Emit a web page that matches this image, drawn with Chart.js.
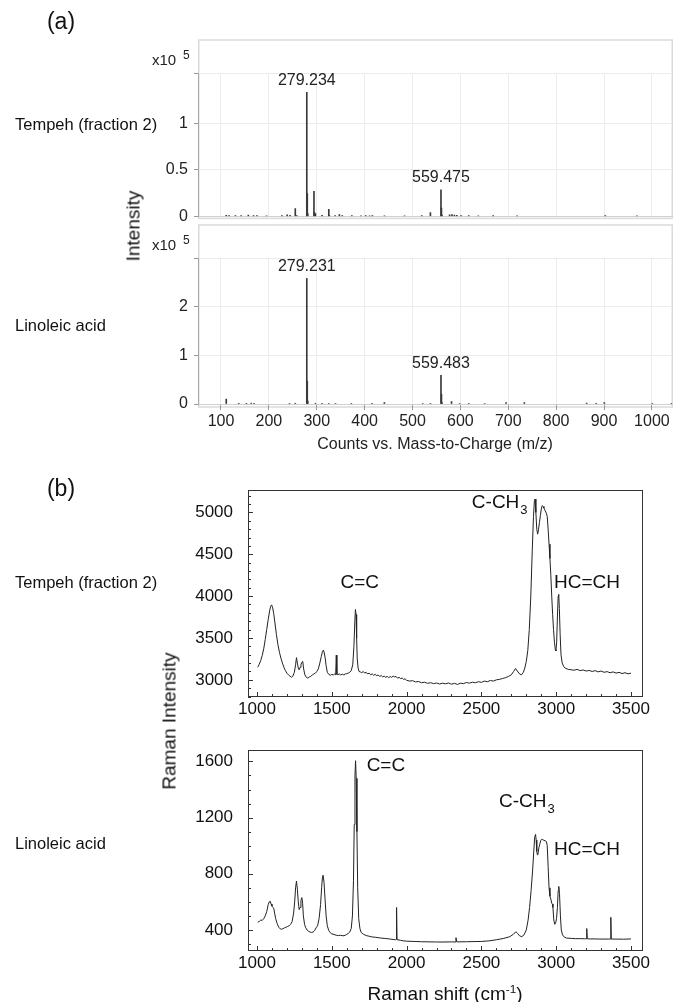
<!DOCTYPE html>
<html><head><meta charset="utf-8">
<script src="https://cdn.jsdelivr.net/npm/chart.js@4.4.1/dist/chart.umd.min.js"></script>
<style>
html,body{margin:0;padding:0;background:#fff;}
#wrap{position:relative;width:673px;height:1002px;overflow:hidden;font-family:"Liberation Sans",Arial,sans-serif;color:#111;}
canvas{position:absolute;left:0;}
.t{position:absolute;white-space:nowrap;line-height:1;transform:translateY(-50%);}
.rot{position:absolute;white-space:nowrap;line-height:1;transform:translate(-50%,-50%) rotate(-90deg);}
.c{position:absolute;white-space:nowrap;line-height:1;transform:translate(-50%,-50%);}
sup{font-size:62%;vertical-align:0.55em;line-height:0;}
</style></head>
<body><div id="wrap">
<canvas id="a1" width="673" height="232" style="top:0;width:673px;height:232px"></canvas>
<canvas id="a2" width="673" height="238" style="top:222px;width:673px;height:238px"></canvas>
<canvas id="b1" width="673" height="260" style="top:465px;width:673px;height:260px"></canvas>
<canvas id="b2" width="673" height="277" style="top:725px;width:673px;height:277px"></canvas>
<div class="c" style="left:61px;top:21px;font-size:23px">(a)</div>
<div class="c" style="left:61px;top:488px;font-size:23px">(b)</div>
<div class="t" style="left:15px;top:124px;font-size:16.5px">Tempeh (fraction 2)</div>
<div class="t" style="left:15px;top:325px;font-size:16.5px">Linoleic acid</div>
<div class="t" style="left:15px;top:582px;font-size:16.5px">Tempeh (fraction 2)</div>
<div class="t" style="left:15px;top:843px;font-size:16.5px">Linoleic acid</div>
<div class="rot" style="left:133px;top:226px;font-size:19px">Intensity</div>
<div class="rot" style="left:169px;top:721px;font-size:19px">Raman Intensity</div>
<div class="c" style="left:445px;top:993px;font-size:19px">Raman shift (cm<sup>-1</sup>)</div>
</div>
<script>
// ---------- DATA ----------
// (a) mass spectra, intensity in units of 1e5 counts
const msMzTempeh = [111.0,117.0,130.1,142.1,157.1,168.1,175.1,195.1,227.2,238.2,244.2,255.2,258.2,279.234,280.237,281.24,294.2,295.2,297.2,311.2,325.2,326.2,338.3,347.3,353.3,373.3,392.3,402.3,410.3,416.3,441.3,483.4,519.4,537.4,559.475,560.48,561.48,577.5,582.5,587.5,592.5,601.5,617.5,637.5,668.5,718.6,902.7,968.7];
const msIntTempeh = [0.012,0.010,0.008,0.009,0.014,0.010,0.008,0.007,0.010,0.018,0.012,0.085,0.010,1.333,0.245,0.030,0.270,0.040,0.030,0.012,0.075,0.012,0.010,0.020,0.008,0.010,0.006,0.008,0.007,0.008,0.006,0.006,0.008,0.040,0.284,0.090,0.015,0.018,0.020,0.015,0.012,0.010,0.008,0.007,0.008,0.006,0.008,0.006];
const msMzLinoleic = [111.0,137.1,153.1,163.1,169.1,243.2,255.2,279.231,280.234,281.24,297.2,311.2,325.2,339.2,372.3,415.3,441.3,521.4,537.4,559.483,560.49,561.5,581.5,598.5,617.5,650.5,695.5,733.6,863.7,883.7,900.7,1000.8,1040.8];
const msIntLinoleic = [0.100,0.015,0.015,0.018,0.012,0.012,0.015,2.580,0.470,0.060,0.015,0.012,0.010,0.010,0.012,0.012,0.030,0.010,0.012,0.590,0.200,0.030,0.050,0.010,0.012,0.010,0.030,0.030,0.020,0.015,0.030,0.012,0.012];
const msPeaksTempeh = [279.234, 559.475];
const msPeaksLinoleic = [279.231, 559.483];
const msXTicks = [100,200,300,400,500,600,700,800,900,1000];
const msYTicksTempeh = [0,0.5,1];
const msYTicksLinoleic = [0,1,2];

// (b) Raman spectra
const ramanShiftTempeh = [1005,1015,1025,1035,1045,1055,1065,1075,1085,1092,1098,1105,1112,1120,1130,1140,1150,1160,1170,1180,1190,1200,1210,1220,1230,1240,1250,1258,1264,1270,1276,1282,1288,1294,1300,1306,1312,1320,1330,1340,1350,1360,1370,1380,1390,1400,1410,1420,1430,1438,1444,1450,1456,1462,1470,1480,1490,1500,1510,1520,1526,1530,1534,1540,1550,1560,1570,1580,1590,1600,1610,1620,1630,1640,1648,1654,1658,1662,1666,1670,1676,1682,1690,1700,1710,1720,1730,1740,1750,1760,1770,1780,1790,1800,1810,1820,1830,1840,1850,1860,1870,1880,1890,1900,1910,1920,1930,1940,1950,1960,1970,1980,1990,2000,2020,2040,2060,2080,2100,2120,2140,2160,2180,2200,2220,2240,2260,2280,2300,2320,2340,2360,2380,2400,2420,2440,2460,2480,2500,2520,2540,2560,2580,2600,2620,2640,2660,2680,2700,2715,2728,2740,2755,2768,2780,2790,2800,2810,2820,2830,2840,2848,2854,2859,2864,2870,2876,2882,2888,2894,2900,2906,2912,2918,2926,2934,2940,2946,2952,2958,2964,2970,2976,2982,2988,2994,2998,3003,3008,3013,3017,3021,3026,3032,3040,3050,3060,3080,3100,3120,3140,3160,3180,3200,3220,3240,3260,3280,3300,3320,3340,3360,3380,3400,3420,3440,3460,3480,3500];
const ramanIntTempeh = [3150,3185,3230,3290,3370,3480,3600,3720,3830,3880,3895,3860,3790,3680,3540,3420,3330,3260,3200,3150,3110,3080,3060,3045,3030,3045,3090,3180,3265,3200,3140,3120,3150,3180,3210,3220,3130,3060,3030,3020,3035,3040,3060,3070,3080,3100,3130,3200,3280,3340,3355,3320,3260,3170,3090,3065,3055,3065,3058,3070,3060,3295,3065,3062,3070,3058,3068,3060,3070,3075,3080,3090,3110,3180,3400,3700,3840,3780,3500,3250,3140,3100,3095,3085,3100,3080,3090,3070,3080,3060,3072,3055,3065,3050,3058,3040,3052,3035,3045,3030,3042,3025,3040,3030,3045,3035,3040,3020,3030,3015,3022,3005,3012,2995,2985,2990,2975,2980,2965,2972,2958,2966,2955,2962,2950,2960,2952,2962,2948,2958,2945,2960,2955,2968,2960,2972,2965,2978,2970,2985,2978,2992,2985,3000,3005,3015,3025,3040,3060,3100,3135,3105,3070,3060,3090,3140,3220,3350,3600,4000,4550,4950,5140,5160,5000,4800,4740,4800,4880,4960,5040,5080,5070,5050,5020,4990,4950,4800,4620,4450,4250,4000,3780,3600,3450,3360,3345,3450,3750,4000,4020,3850,3550,3300,3200,3160,3140,3125,3120,3115,3125,3110,3118,3105,3112,3100,3110,3095,3105,3090,3098,3085,3095,3080,3090,3075,3085,3072,3080];
const ramanShiftLinoleic = [1005,1015,1025,1035,1045,1055,1065,1075,1082,1088,1094,1100,1106,1112,1118,1125,1135,1145,1155,1165,1175,1185,1195,1205,1215,1225,1235,1245,1252,1258,1264,1270,1276,1282,1288,1294,1300,1305,1310,1318,1326,1335,1345,1355,1365,1375,1385,1395,1405,1415,1425,1432,1438,1442,1448,1455,1462,1470,1480,1490,1500,1515,1530,1545,1560,1575,1590,1600,1610,1620,1630,1638,1645,1650,1655,1659,1663,1668,1673,1680,1688,1696,1710,1730,1750,1770,1790,1810,1830,1850,1870,1890,1910,1925,1930,1933,1936,1940,1960,1980,2000,2050,2100,2150,2200,2250,2300,2325,2330,2335,2350,2400,2450,2500,2550,2600,2650,2690,2715,2730,2742,2755,2770,2785,2800,2812,2822,2832,2842,2850,2856,2862,2866,2870,2874,2878,2884,2890,2896,2902,2910,2918,2926,2934,2940,2946,2952,2958,2964,2970,2974,2978,2984,2990,2996,3002,3008,3013,3017,3022,3028,3034,3042,3055,3070,3100,3130,3160,3190,3200,3204,3208,3230,3260,3290,3320,3350,3362,3365,3368,3400,3450,3500];
const ramanIntLinoleic = [455,460,470,468,480,500,530,580,600,605,585,570,560,555,520,480,445,420,408,405,410,415,420,425,430,440,460,520,600,700,748,690,600,545,560,610,630,590,500,440,415,400,390,385,382,385,395,415,430,480,580,700,780,790,740,620,500,430,395,380,372,368,362,360,362,358,362,368,375,385,410,500,750,1150,1500,1605,1480,1100,700,480,410,383,370,360,355,350,348,345,342,340,338,335,332,330,332,560,332,330,326,322,320,318,316,315,314,314,315,314,345,315,315,316,317,318,322,330,340,352,370,387,375,358,352,365,400,470,560,680,820,960,1060,1080,1040,960,935,940,985,1010,1035,1045,1043,1038,1035,1030,1000,850,700,640,620,590,585,560,470,440,450,480,560,680,710,660,500,400,365,348,342,340,338,338,337,337,410,337,336,336,335,335,335,335,490,335,335,334,336];
const ramanXTicks = [1000,1500,2000,2500,3000,3500];
const ramanYTicksTempeh = [3000,3500,4000,4500,5000];
const ramanYTicksLinoleic = [400,800,1200,1600];
const ramanNotesTempeh = [
  {text:'C=C', x:1687, y:4156, align:'center'},
  {text:'C-CH', sub:'3', x:2436, y:5111, align:'left'},
  {text:'HC=CH', x:2985, y:4156, align:'left'}
];
const ramanNotesLinoleic = [
  {text:'C=C', x:1733, y:1568, align:'left'},
  {text:'C-CH', sub:'3', x:2617, y:1310, align:'left'},
  {text:'HC=CH', x:2985, y:974, align:'left'}
];

// ---------- STYLE / HELPERS ----------
const SANS = '"Liberation Sans",Arial,sans-serif';
Chart.defaults.font.family = SANS;
Chart.defaults.color = '#111';

const toPts = (xs, ys) => xs.map((x, i) => ({x, y: ys[i]}));
const fixTicks = (arr, extraMax) => s => {
  const vals = arr.slice();
  if (extraMax !== undefined) vals.push(extraMax);
  s.ticks = vals.map(v => ({value: v}));
};

const msPlugin = {
  id: 'msPlugin',
  beforeDraw(chart, args, o) {
    const {ctx, chartArea: a} = chart;
    ctx.save();
    ctx.strokeStyle = '#dadada';
    ctx.lineWidth = 1.5;
    ctx.strokeRect(a.left + 0.75, a.top - o.frameTop, a.right - a.left - 0.5, a.bottom - a.top + o.frameTop + o.frameBottom);
    ctx.fillStyle = '#222';
    ctx.textBaseline = 'middle';
    ctx.textAlign = 'left';
    ctx.font = '15px ' + SANS;
    ctx.fillText('x10', a.left - 46, a.top - 12);
    ctx.font = '12px ' + SANS;
    ctx.fillText('5', a.left - 15, a.top - 17);
    ctx.restore();
  },
  afterDatasetsDraw(chart, args, o) {
    const {ctx, scales: {x, y}} = chart;
    const ds = chart.data.datasets[0].data;
    ctx.save();
    ctx.fillStyle = '#222';
    ctx.font = '16px ' + SANS;
    ctx.textAlign = 'center';
    ctx.textBaseline = 'middle';
    o.peaks.forEach(mz => {
      const p = ds.find(d => d.x === mz);
      if (!p) return;
      ctx.fillText(mz.toFixed(3), x.getPixelForValue(mz), y.getPixelForValue(p.y) - 12);
    });
    ctx.restore();
  }
};

const ramanPlugin = {
  id: 'ramanPlugin',
  afterDraw(chart, args, o) {
    const {ctx, chartArea: a, scales: {x, y}} = chart;
    ctx.save();
    ctx.strokeStyle = '#333';
    ctx.lineWidth = 1;
    ctx.strokeRect(Math.round(a.left) + 0.5, Math.round(a.top) + 0.5, Math.round(a.right - a.left) - 1, Math.round(a.bottom - a.top) - 1);
    ctx.beginPath();
    for (let v = Math.ceil(x.min / 100) * 100; v <= x.max; v += 100) {
      const px = Math.round(x.getPixelForValue(v)) + 0.5;
      const L = (v % 500 === 0) ? 5 : 3;
      ctx.moveTo(px, a.bottom); ctx.lineTo(px, a.bottom - L);
    }
    for (let v = Math.ceil(y.min / 100) * 100; v <= y.max; v += 100) {
      const py = Math.round(y.getPixelForValue(v)) + 0.5;
      const L = o.major.includes(v) ? 5 : 3;
      ctx.moveTo(a.left, py); ctx.lineTo(a.left + L, py);
    }
    ctx.stroke();
    ctx.fillStyle = '#111';
    ctx.textBaseline = 'middle';
    o.notes.forEach(n => {
      const px = x.getPixelForValue(n.x), py = y.getPixelForValue(n.y);
      ctx.font = '19px ' + SANS;
      const w = ctx.measureText(n.text).width;
      let sx = n.align === 'center' ? px - w / 2 : px;
      ctx.textAlign = 'left';
      ctx.fillText(n.text, sx, py);
      if (n.sub) {
        ctx.font = '13px ' + SANS;
        ctx.fillText(n.sub, sx + w + 1, py + 7);
      }
    });
    ctx.restore();
  }
};

function msChart(id, mz, inten, peaks, yTicks, yMax, opts) {
  return new Chart(document.getElementById(id), {
    type: 'bar',
    data: {datasets: [{data: toPts(mz, inten), backgroundColor: '#3a3a3a', borderWidth: 0, barThickness: 1, grouped: false}]},
    options: {
      responsive: false, animation: false, devicePixelRatio: 1,
      layout: {padding: {top: opts.padTop, right: 1, left: 0, bottom: 0}},
      plugins: {legend: {display: false}, tooltip: {enabled: false}, msPlugin: {peaks, frameTop: 33, frameBottom: opts.frameBottom}},
      scales: {
        x: {
          type: 'linear', min: 52, max: 1042, offset: false,
          afterBuildTicks: fixTicks(msXTicks),
          afterFit: s => { s.height = opts.xHeight; },
          ticks: {display: opts.showX, font: {size: 16}, color: '#222', padding: 2, maxRotation: 0, autoSkip: false,
                  callback: v => String(v)},
          grid: {color: '#ececec', offset: false, drawTicks: opts.showX, tickLength: 6, tickColor: '#999'},
          border: {display: true, color: '#d0d0d0', width: 1},
          title: {display: opts.showX, text: 'Counts vs. Mass-to-Charge (m/z)', font: {size: 16}, color: '#222', padding: {top: 0, bottom: 6}}
        },
        y: {
          min: 0, max: yMax,
          afterBuildTicks: fixTicks(yTicks, yMax),
          afterFit: s => { s.width = 198; },
          ticks: {font: {size: 16}, color: '#222', padding: 6,
                  callback: v => (v === yMax ? '' : String(v))},
          grid: {color: '#ececec', tickLength: 4, tickColor: '#999'},
          border: {color: '#a8a8a8', width: 1}
        }
      }
    },
    plugins: [msPlugin]
  });
}

msChart('a1', msMzTempeh, msIntTempeh, msPeaksTempeh, msYTicksTempeh, 1.54,
  {padTop: 73, xHeight: 13, showX: false, frameBottom: 2});
msChart('a2', msMzLinoleic, msIntLinoleic, msPeaksLinoleic, msYTicksLinoleic, 3,
  {padTop: 36, xHeight: 56, showX: true, frameBottom: 3});

function ramanChart(id, xs, ys, yTicks, yMin, yMax, notes, opts) {
  return new Chart(document.getElementById(id), {
    type: 'line',
    data: {datasets: [{data: toPts(xs, ys), borderColor: '#222', borderWidth: 1, pointRadius: 0, tension: 0, fill: false}]},
    options: {
      responsive: false, animation: false, devicePixelRatio: 1,
      layout: {padding: {top: opts.padTop, right: 30, left: 0, bottom: 0}},
      plugins: {legend: {display: false}, tooltip: {enabled: false}, ramanPlugin: {notes, major: yTicks}},
      scales: {
        x: {
          type: 'linear', min: 940, max: 3580,
          afterBuildTicks: fixTicks(ramanXTicks),
          afterFit: s => { s.height = opts.xHeight; },
          ticks: {font: {size: 17}, color: '#111', padding: 2, maxRotation: 0, autoSkip: false, callback: v => String(v)},
          grid: {display: false, drawTicks: false},
          border: {display: false}
        },
        y: {
          min: yMin, max: yMax,
          afterBuildTicks: fixTicks(yTicks),
          afterFit: s => { s.width = 248; },
          ticks: {font: {size: 17}, color: '#111', padding: 15, callback: v => String(v)},
          grid: {display: false, drawTicks: false},
          border: {display: false}
        }
      }
    },
    plugins: [ramanPlugin]
  });
}

ramanChart('b1', ramanShiftTempeh, ramanIntTempeh, ramanYTicksTempeh, 2795, 5265, ramanNotesTempeh,
  {padTop: 10, xHeight: 28});
ramanChart('b2', ramanShiftLinoleic, ramanIntLinoleic, ramanYTicksLinoleic, 250, 1680, ramanNotesLinoleic,
  {padTop: 4, xHeight: 51});
</script>
</body></html>
